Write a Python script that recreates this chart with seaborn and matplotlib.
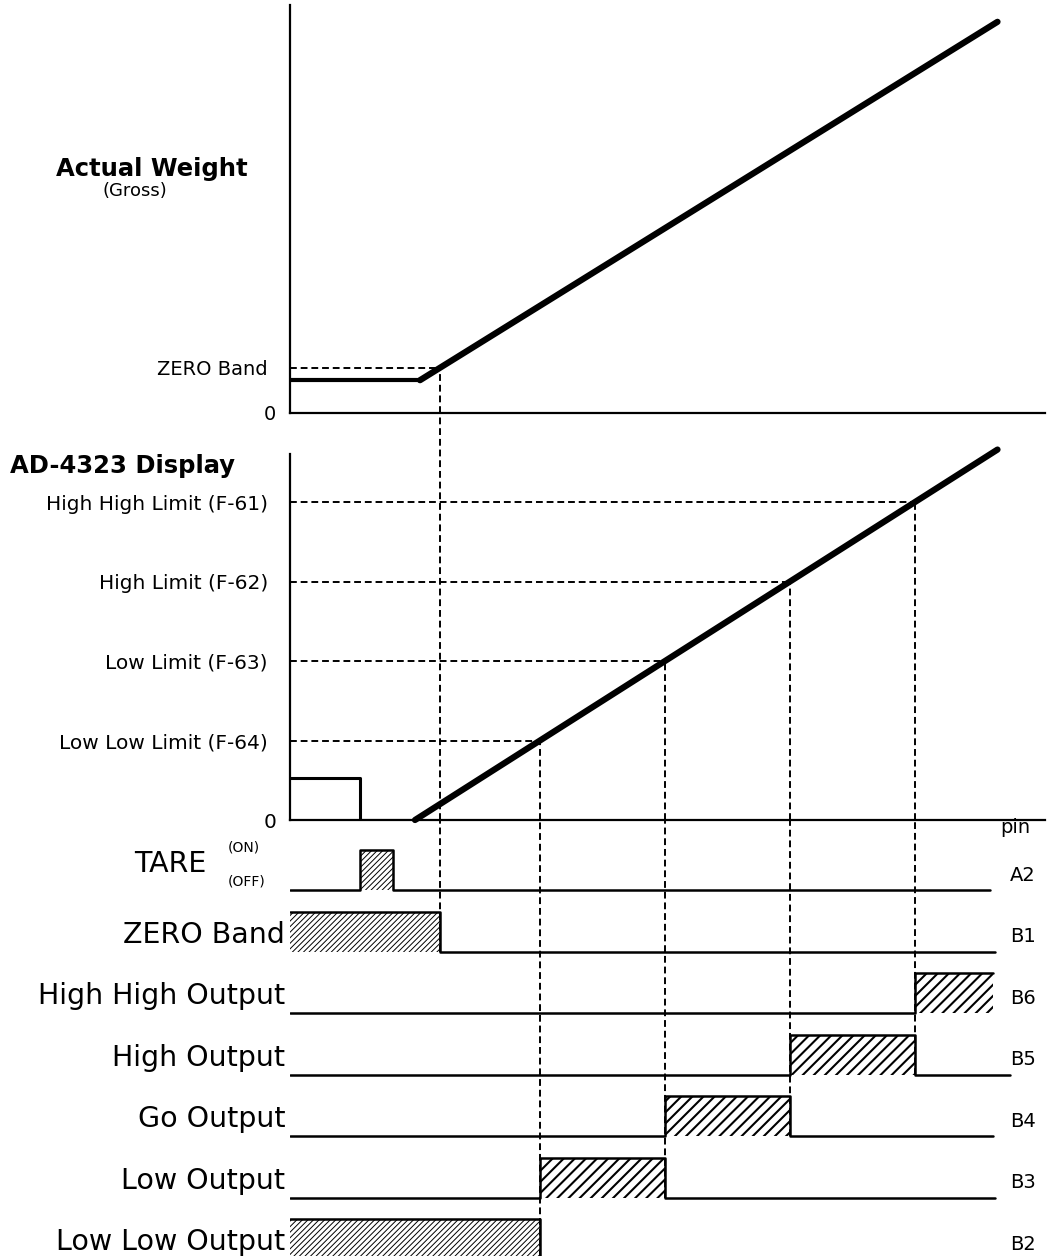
import matplotlib
matplotlib.use("Agg")
import matplotlib.pyplot as plt
import seaborn as sns

# time runs left to right in arbitrary units, 0 = start of the cycle
weight_t = [0, 5.2, 28.3]
weight_val = [8, 8, 95.4]
zero_band = 11
zero_cross_t = 6.0

display_tare_t = [0, 2.8, 2.8, 5.0]
display_tare_val = [10.5, 10.5, 0, 0]
display_t = [5.0, 28.3]
display_val = [0, 93.2]

limit_labels = ["Low Low Limit (F-64)", "Low Limit (F-63)",
                "High Limit (F-62)", "High High Limit (F-61)"]
limit_vals = [20, 40, 60, 80]
limit_t = [10, 15, 20, 25]
limit_stop_row = [6, 5, 4, 3]

row_labels = ["TARE", "ZERO Band", "High High Output", "High Output",
              "Go Output", "Low Output", "Low Low Output"]
row_pins = ["A2", "B1", "B6", "B5", "B4", "B3", "B2"]
row_on = [(2.8, 4.1), (0, 6), (25, 28.1), (20, 25), (15, 20), (10, 15), (0, 10)]
row_end = [28.0, 28.2, 28.1, 28.8, 28.1, 28.2, 28.2]
row_fine = [True, True, False, False, False, False, True]

sns.set_theme(style="white")
plt.rcParams["font.family"] = ["DejaVu Sans"]
plt.rcParams["text.color"] = "black"
plt.rcParams["ytick.color"] = "black"
plt.rcParams["ytick.labelcolor"] = "black"
plt.rcParams["hatch.linewidth"] = 1.0

fig = plt.figure(figsize=(10.48, 12.56), dpi=100)
left, width = 290 / 1048, 755 / 1048
ax_top = fig.add_axes([left, 1 - 413 / 1256, width, 408 / 1256])
ax_mid = fig.add_axes([left, 1 - 820 / 1256, width, 407 / 1256])
ax_bot = fig.add_axes([left, 0, width, 436 / 1256])

DASH = dict(color="black", lw=1.4, linestyle=(0, (3.5, 2)))

for ax in (ax_top, ax_mid, ax_bot):
    ax.set_xlim(0, 30.2)
    ax.set_xticks([])
    ax.set_facecolor("none")
    for s in ("top", "right"):
        ax.spines[s].set_visible(False)
    for s in ("left", "bottom"):
        ax.spines[s].set_color("black")
        ax.spines[s].set_linewidth(1.6)

# ---- Actual weight
ax_top.set_ylim(0, 99.5)
sns.lineplot(x=weight_t[:2], y=weight_val[:2], ax=ax_top, color="black",
             linewidth=3.0, estimator=None, sort=False)
sns.lineplot(x=weight_t[1:], y=weight_val[1:], ax=ax_top, color="black",
             linewidth=4.5, estimator=None, sort=False, solid_capstyle="round")
ax_top.hlines(zero_band, 0, zero_cross_t, **DASH)
ax_top.vlines(zero_cross_t, 0, zero_band, **DASH)
ax_top.set_yticks([0, zero_band], ["0", "ZERO Band"], fontsize=14)
ax_top.tick_params(axis="y", length=0)
ticks = ax_top.yaxis.get_major_ticks()
ticks[0].set_pad(10)
ticks[1].set_pad(16)
ax_top.text(-1.68, 57.8, "Actual Weight", ha="right", va="baseline",
            fontsize=17.5, fontweight="bold")
ax_top.text(-6.2, 52.9, "(Gross)", ha="center", va="baseline", fontsize=13)

# ---- AD-4323 display
ax_mid.set_ylim(0, 102.4)
ax_mid.spines["left"].set_bounds(0, 92)
sns.lineplot(x=display_tare_t, y=display_tare_val, ax=ax_mid, color="black",
             linewidth=2.2, estimator=None, sort=False)
sns.lineplot(x=display_t, y=display_val, ax=ax_mid, color="black",
             linewidth=4.5, estimator=None, sort=False, solid_capstyle="round")
ax_mid.lines[-1].set_clip_on(False)
for v, t in zip(limit_vals, limit_t):
    ax_mid.hlines(v, 0, t, **DASH)
    ax_mid.vlines(t, 0, v, **DASH)
ax_mid.vlines(zero_cross_t, 0, 102.4, **DASH)
ax_mid.set_yticks([0] + limit_vals, ["0"] + limit_labels, fontsize=14.5)
ax_mid.tick_params(axis="y", length=0)
ticks = ax_mid.yaxis.get_major_ticks()
ticks[0].set_pad(10)
for tk in ticks[1:]:
    tk.set_pad(16)
ax_mid.text(-11.2, 87.3, "AD-4323 Display", ha="left", va="baseline",
            fontsize=17.5, fontweight="bold")

# ---- digital outputs
ax_bot.set_ylim(5.95, -1.138)
ax_bot.set_yticks([])
ax_bot.spines["left"].set_visible(False)
ax_bot.spines["bottom"].set_visible(False)
H = 0.65

for k, (lab, pin, (s, e), end, fine) in enumerate(
        zip(row_labels, row_pins, row_on, row_end, row_fine)):
    ts, vs = [0], [1 if s <= 0 else 0]
    if s > 0:
        ts.append(s); vs.append(1)
    if e < end:
        ts.append(e); vs.append(0)
    ts.append(end); vs.append(vs[-1])
    ys = [k - H * v for v in vs]
    ax_bot.step(ts, ys, where="post", color="black", lw=1.8)
    poly = ax_bot.fill_between(ts, [k] * len(ts), ys, step="post",
                               facecolor="none", edgecolor="black", linewidth=0,
                               hatch="//////" if fine else "///")
    if hasattr(poly, "set_hatch_linewidth"):
        poly.set_hatch_linewidth(0.7 if fine else 1.5)
    ax_bot.text(28.8, k - 0.15, pin, ha="left", va="baseline", fontsize=14)
    if k > 0:
        ax_bot.text(-0.2, k - 0.14, lab, ha="right", va="baseline", fontsize=20.5)

ax_bot.text(-3.32, -0.29, row_labels[0], ha="right", va="baseline", fontsize=20.5)
ax_bot.text(-2.48, -0.63, "(ON)", ha="left", va="baseline", fontsize=10)
ax_bot.text(-2.48, -0.07, "(OFF)", ha="left", va="baseline", fontsize=10)
ax_bot.text(28.4, -0.93, "pin", ha="left", va="baseline", fontsize=14)

ax_bot.vlines(zero_cross_t, 1, -1.138, **DASH)
for t, r in zip(limit_t, limit_stop_row):
    ax_bot.vlines(t, r, -1.138, **DASH)

fig.savefig("out.png", dpi=100)
